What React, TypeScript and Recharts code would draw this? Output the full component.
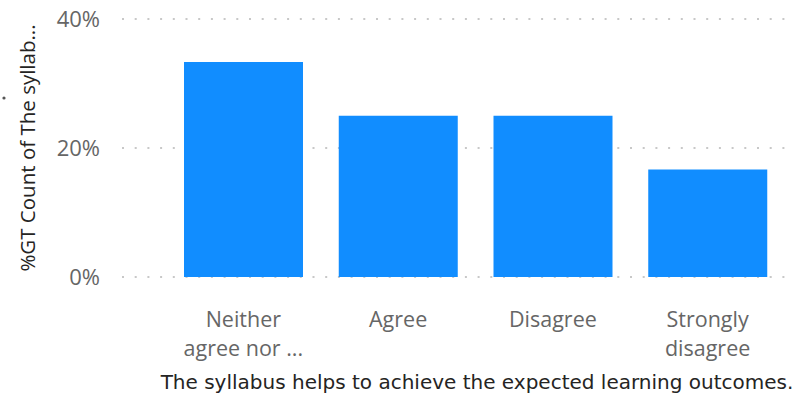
import React from 'react';
import { BarChart, Bar, XAxis, YAxis, CartesianGrid, Customized } from 'recharts';

// 回答カテゴリと割合
const categories = ['Neither agree nor disagree', 'Agree', 'Disagree', 'Strongly disagree'];
const tickLines = [['Neither', 'agree nor ...'], ['Agree'], ['Disagree'], ['Strongly', 'disagree']];
const percentages = [33.33, 25, 25, 16.67];
const yTicks = [0, 20, 40];

const yLabel = '%GT Count of The syllab...';
const xLabel = 'The syllabus helps to achieve the expected learning outcomes.';

const data = categories.map((name, i) => ({ name, value: percentages[i], lines: tickLines[i] }));

const tickFont = '"Open Sans", "Noto Sans", sans-serif';

const CategoryTick = (props: any) => {
    const { x, y, index } = props;
    const lines = tickLines[index] || [];
    return (
        <g>
            {lines.map((line, i) => (
                <text
                    key={i}
                    x={x}
                    y={y + 42 + i * 29}
                    textAnchor="middle"
                    fill="#666666"
                    fontSize={21.5}
                    fontFamily={tickFont}
                >
                    {line}
                </text>
            ))}
        </g>
    );
};

const App: React.FC = () => {
    return (
        <div style={{ position: 'fixed', left: 0, top: 0, width: 796, height: 395, background: '#fff' }}>
            <BarChart
                width={796}
                height={395}
                data={data}
                margin={{ top: 19, right: 6, bottom: 0, left: 0 }}
                barCategoryGap={18}
            >
                <CartesianGrid
                    vertical={false}
                    stroke="#c8c8c8"
                    strokeWidth={2}
                    strokeDasharray="2 10.7"
                />
                <XAxis
                    dataKey="name"
                    axisLine={false}
                    tickLine={false}
                    interval={0}
                    height={118}
                    padding={{ left: 44, right: 5 }}
                    tick={<CategoryTick />}
                />
                <YAxis
                    domain={[0, 40]}
                    ticks={yTicks}
                    width={122}
                    axisLine={false}
                    tickLine={false}
                    tickMargin={16}
                    tickFormatter={(v: number) => `${v}%`}
                    tick={{ fill: '#666666', fontSize: 22, fontFamily: tickFont }}
                />
                <Bar dataKey="value" fill="#118DFF" isAnimationActive={false} />
                <Customized
                    component={() => (
                        <g>
                            <circle cx={4} cy={98} r={1.6} fill="#555" />
                            <text
                                x={0}
                                y={0}
                                transform="translate(35 148) rotate(-90)"
                                textAnchor="middle"
                                fill="#252423"
                                fontSize={20.5}
                                fontFamily={tickFont}
                            >
                                {yLabel}
                            </text>
                            <text
                                x={477}
                                y={389}
                                textAnchor="middle"
                                fill="#252423"
                                fontSize={20}
                                fontFamily='"DejaVu Sans", "Noto Sans", sans-serif'
                            >
                                {xLabel}
                            </text>
                        </g>
                    )}
                />
            </BarChart>
        </div>
    );
};

export default App;
